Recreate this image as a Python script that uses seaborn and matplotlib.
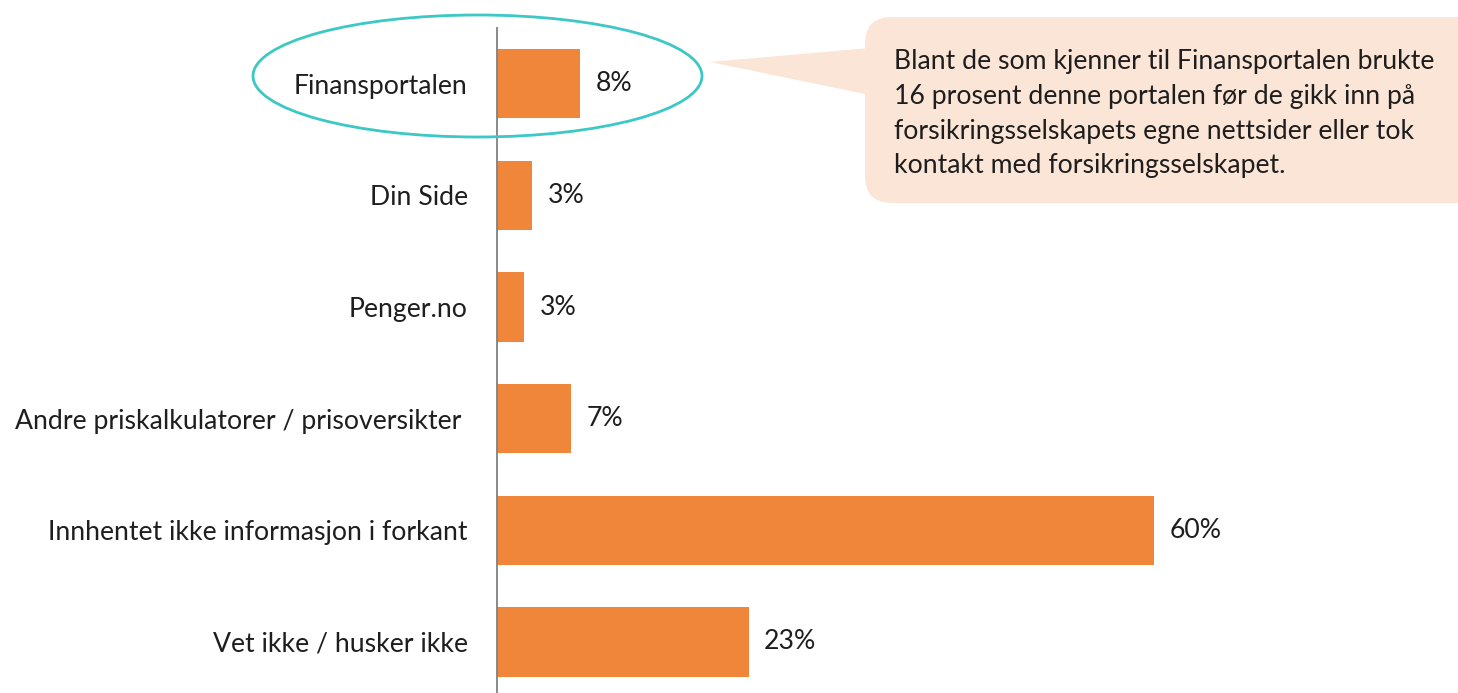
import matplotlib
matplotlib.use('Agg')
import matplotlib.pyplot as plt
import seaborn as sns
import pandas as pd
from matplotlib.patches import Ellipse, FancyBboxPatch, Polygon

categories = ["Finansportalen", "Din Side", "Penger.no",
              "Andre priskalkulatorer / prisoversikter ",
              "Innhentet ikke informasjon i forkant", "Vet ikke / husker ikke"]
values = [7.6, 3.2, 2.5, 6.8, 60.0, 23.0]
value_labels = ["8%", "3%", "3%", "7%", "60%", "23%"]
callout_lines = ["Blant de som kjenner til Finansportalen brukte",
                 "16 prosent denne portalen før de gikk inn på",
                 "forsikringsselskapets egne nettsider eller tok",
                 "kontakt med forsikringsselskapet."]

sns.set_theme(style='white')
plt.rcParams['font.family'] = ['Lato', 'DejaVu Sans']

FS = 19.2
TXT = '#1E1E1E'
WT = 'normal'
W, H = 1458, 693
fig = plt.figure(figsize=(W / 100, H / 100), dpi=100)
ax = fig.add_axes([497 / W, 0, 1 - 497 / W, 1 - 28 / H])
df = pd.DataFrame({'cat': categories, 'val': values})
sns.barplot(data=df, x='val', y='cat', orient='h', color='#F0863A', width=0.62,
            saturation=1, linewidth=0, ax=ax)
ax.set_xlim(0, (W - 497) / 10.95)
ax.set_ylim(5.457, -0.5)
ax.set_xlabel('')
ax.set_ylabel('')
ax.set_xticks([])
for s in ['top', 'right', 'bottom']:
    ax.spines[s].set_visible(False)
ax.spines['left'].set_color('#808080')
ax.spines['left'].set_linewidth(1.3)
ax.tick_params(axis='y', length=0, pad=21, labelsize=FS, labelcolor=TXT)
for lab in ax.get_yticklabels():
    lab.set_fontweight(WT)
ax.bar_label(ax.containers[0], labels=value_labels, padding=11, fontsize=FS,
             color=TXT, fontweight=WT)

ov = fig.add_axes([0, 0, 1, 1])
ov.set_xlim(0, W)
ov.set_ylim(H, 0)
ov.axis('off')
ov.patch.set_alpha(0)

ov.add_patch(Ellipse((477.5, 76), 449, 122, fill=False, edgecolor='#3CC8C4', linewidth=2))
ov.add_patch(FancyBboxPatch((865, 17), 640, 186,
                            boxstyle='round,pad=0,rounding_size=27',
                            facecolor='#FBE5D6', edgecolor='none'))
ov.add_patch(Polygon([(710, 62), (870, 48), (870, 95)], closed=True,
                     facecolor='#FBE5D6', edgecolor='none'))
for i, line in enumerate(callout_lines):
    ov.text(894, 69.5 + i * 34.6, line, fontsize=FS, color=TXT, va='baseline',
            ha='left', fontweight=WT)

fig.savefig('out.png', dpi=100)
